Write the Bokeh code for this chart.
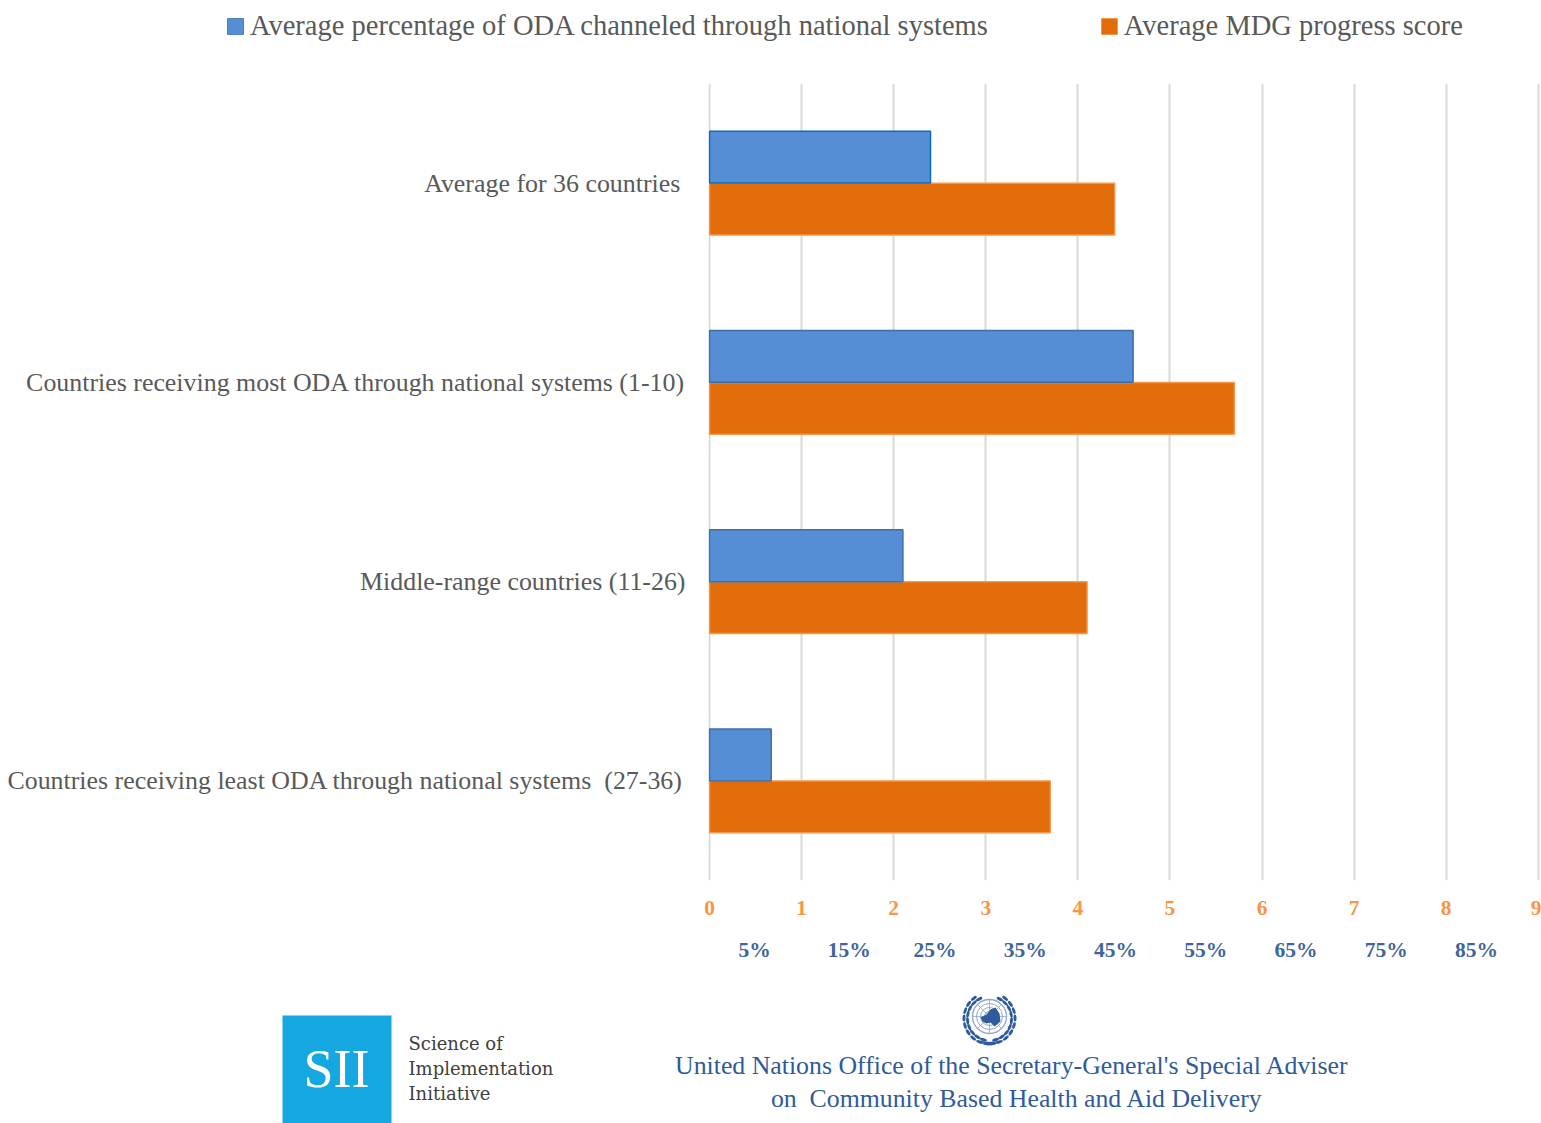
import numpy as np
from bokeh.embed import file_html
from bokeh.resources import INLINE
from bokeh.models import (ColumnDataSource, FactorRange, Range1d, LinearAxis, FixedTicker,
                          Grid, Legend, LegendItem)
from bokeh.plotting import figure
from bokeh.transform import dodge
from bokeh.core.properties import value

# Thin trailing spaces keep the uneven right edges of the category labels
categories = [
    "Average for 36 countries\u2009",
    "Countries receiving most ODA through national systems (1-10)",
    "Middle-range countries (11-26)",
    "Countries receiving least ODA through national systems\u00a0 (27-36)\u200a",
]
oda_share = [2.4, 4.6, 2.1, 0.67]
mdg_score = [4.4, 5.7, 4.1, 3.7]
oda_outline = ["#0070C0", "#3F6FA8", "#3F6FA8", "#3F6FA8"]
legend_labels = ["Average percentage of ODA channeled through national systems", "Average MDG progress score"]
score_ticks = [0, 1, 2, 3, 4, 5, 6, 7, 8, 9]
percent_ticks = [5, 15.5, 25, 35, 45, 55, 65, 75, 85]
percent_labels = ["5%", "15%", "25%", "35%", "45%", "55%", "65%", "75%", "85%"]

SERIF = "Liberation Serif"
GREY = "#595959"
UN_BLUE = "#2F5B9A"
ODA_FILL, MDG_FILL = "#558ED5", "#E36C0A"

# Legend band across the top of the page; the key quads sit outside the visible range
top = figure(width=1541, height=83, output_backend="svg", toolbar_location=None,
             x_range=Range1d(0, 1541), y_range=Range1d(83, 0), min_border=0,
             outline_line_color=None, x_axis_type=None, y_axis_type=None)
top.grid.visible = False
key_blue = top.quad(left=[-20], right=[-10], top=[-20], bottom=[-10], fill_color=ODA_FILL, line_color="#4F81BD")
key_orange = top.quad(left=[-20], right=[-10], top=[-20], bottom=[-10], fill_color=MDG_FILL, line_color="#F79646")
legend = Legend(items=[LegendItem(label=value(legend_labels[0]), renderers=[key_blue]),
                       LegendItem(label=value(legend_labels[1]), renderers=[key_orange])],
                orientation="horizontal", location=(225, 41), border_line_color=None,
                background_fill_alpha=0, glyph_width=20, glyph_height=20, label_standoff=5,
                spacing=111, padding=0, margin=0, label_text_font=SERIF,
                label_text_font_size="28.5px", label_text_color=GREY)
top.add_layout(legend, "center")

# Main bar chart; the range starts just below zero so the grid line at zero is kept
src = ColumnDataSource(dict(cat=categories, oda=oda_share, mdg=mdg_score, line=oda_outline))
p = figure(width=1541, height=881, output_backend="svg", toolbar_location=None,
           x_range=Range1d(-0.011, 9.035), y_range=FactorRange(factors=categories[::-1]),
           min_border_left=708, min_border_right=0, min_border_top=0, min_border_bottom=0,
           outline_line_color=None, background_fill_color="white", x_axis_type=None)
p.y_range.range_padding = 0

p.hbar(y=dodge("cat", -0.13, range=p.y_range), right="mdg", left=0, height=0.26, source=src,
       fill_color=MDG_FILL, line_color="#F79646", line_width=1.5)
p.hbar(y=dodge("cat", 0.13, range=p.y_range), right="oda", left=0, height=0.26, source=src,
       fill_color=ODA_FILL, line_color="line", line_width=1.5)

# Category axis
p.yaxis.axis_line_color = None
p.yaxis.major_tick_line_color = None
p.yaxis.minor_tick_line_color = None
p.yaxis.major_tick_out = 0
p.yaxis.major_tick_in = 0
p.yaxis.major_label_standoff = 23
p.yaxis.major_label_text_font = SERIF
p.yaxis.major_label_text_font_size = "25.9px"
p.yaxis.major_label_text_color = GREY
p.ygrid.grid_line_color = None

# Score axis, with its ticks carried by the vertical grid
score_axis = LinearAxis(ticker=FixedTicker(ticks=score_ticks), axis_line_color=None,
                        major_tick_line_color=None, minor_tick_line_color=None,
                        major_tick_out=0, major_tick_in=0,
                        major_label_standoff=20, major_label_text_font=SERIF,
                        major_label_text_font_size="21.5px", major_label_text_font_style="bold",
                        major_label_text_color="#F79646")
p.add_layout(score_axis, "below")
p.add_layout(Grid(dimension=0, ticker=score_axis.ticker, grid_line_color="#D9D9D9", grid_line_width=2))

# Percentage axis running under the score axis
p.extra_x_ranges["percent"] = Range1d(-0.11, 92.2)
percent_axis = LinearAxis(x_range_name="percent", ticker=FixedTicker(ticks=percent_ticks),
                          major_label_overrides=dict(zip(percent_ticks, percent_labels)),
                          axis_line_color=None, major_tick_line_color=None, minor_tick_line_color=None,
                          major_tick_out=0, major_tick_in=0,
                          major_label_standoff=20, major_label_text_font=SERIF,
                          major_label_text_font_size="21.5px", major_label_text_font_style="bold",
                          major_label_text_color="#3F659B")
p.add_layout(percent_axis, "below")

# Footer band carrying the two institutional marks; coordinates are page pixels
f = figure(width=1541, height=159, output_backend="svg", toolbar_location=None,
           x_range=Range1d(0, 1541), y_range=Range1d(1123, 964),
           min_border=0, outline_line_color=None, x_axis_type=None, y_axis_type=None)
f.grid.visible = False

f.quad(left=[282], right=[391], top=[1015], bottom=[1123], fill_color="#14A7E0", line_color=None)
f.text(x=[336], y=[1068], text=["SII"], text_font=value(SERIF), text_font_size="54px",
       text_color="white", text_align="center", text_baseline="middle")
f.text(x=[408, 408, 408], y=[1043, 1068, 1093], text=["Science of", "Implementation", "Initiative"],
       text_font=value("DejaVu Serif"), text_font_size="18px", text_color="#404040", text_baseline="middle")

f.text(x=[1011.5, 1016.5], y=[1065, 1098],
       text=["United Nations Office of the Secretary-General's Special Adviser",
             "on\u00a0 Community Based Health and Aid Delivery"],
       text_font=value(SERIF), text_font_size="25.8px", text_color=UN_BLUE,
       text_align="center", text_baseline="middle")

# Emblem: meridians and parallels of a polar globe inside an olive wreath
cx, cy = 989.0, 1016.0
GLOBE_LINE = "#8FA8CC"
f.circle(x=[cx], y=[cy], radius=[17], fill_color=None, line_color=GLOBE_LINE, line_width=1.3)
for r in [13, 9, 5]:
    f.circle(x=[cx], y=[cy], radius=[r], fill_color=None, line_color=GLOBE_LINE, line_width=1)
for a in np.arange(0, np.pi, np.pi / 4):
    f.segment(x0=[cx - 17 * np.cos(a)], y0=[cy - 17 * np.sin(a)], x1=[cx + 17 * np.cos(a)], y1=[cy + 17 * np.sin(a)],
              line_color=GLOBE_LINE, line_width=0.8)
f.patch(x=[cx - 9, cx - 3, cx + 1, cx + 6, cx + 10, cx + 11, cx + 5, cx + 1, cx - 3, cx - 7],
        y=[cy + 1, cy - 2, cy - 7, cy - 9, cy - 3, cy + 5, cy + 10, cy + 6, cy + 7, cy + 5],
        fill_color=UN_BLUE, line_color=None)
for side in (-1, 1):
    for radius, start in ((22.0, -62), (25.5, -52)):
        theta = np.radians(np.arange(start, 88, 17))
        xs = cx + side * radius * np.cos(theta)
        ys = cy + 2 + radius * np.sin(theta)
        rotation = -(theta + np.pi / 2) if side == 1 else -(np.pi / 2 - theta)
        f.ellipse(x=xs, y=ys, width=7.0, height=3.0, angle=rotation, fill_color=UN_BLUE, line_color=None)
f.segment(x0=[cx - 10, cx + 10], y0=[cy + 25, cy + 25], x1=[cx + 7, cx - 7], y1=[cy + 27, cy + 27],
          line_color=UN_BLUE, line_width=1.5)

open("out.html", "w").write(file_html([top, p, f], INLINE))
